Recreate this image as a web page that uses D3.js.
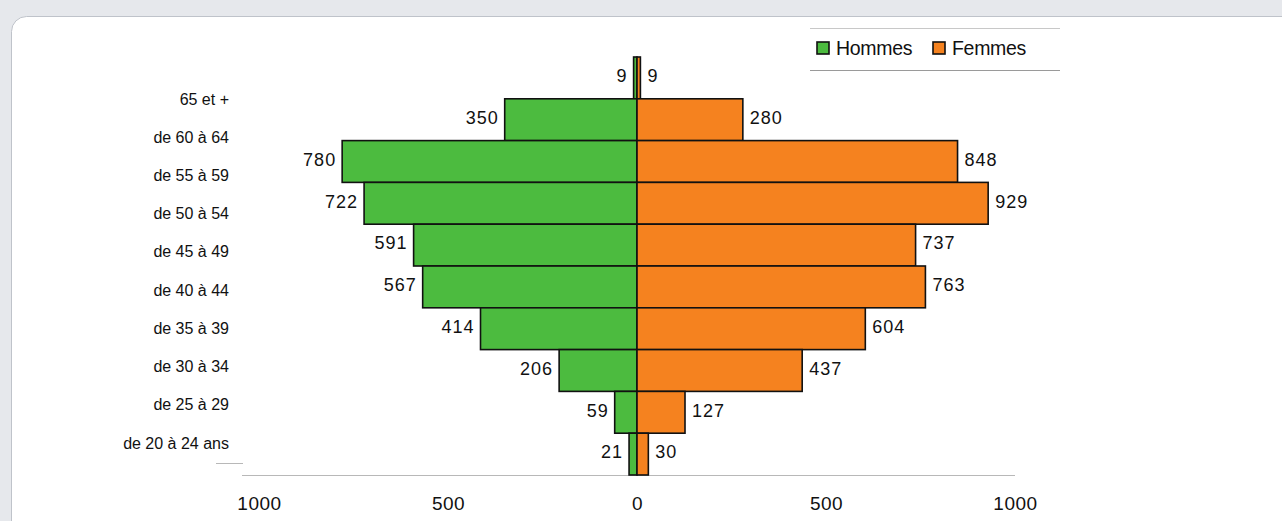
<!DOCTYPE html>
<html>
<head>
<meta charset="utf-8">
<script src="https://cdn.jsdelivr.net/npm/d3@7"></script>
<style>
  html, body { margin: 0; padding: 0; background: #e6e8ec; }
  svg { display: block; font-family: "Liberation Sans", Arial, sans-serif; }
</style>
</head>
<body>
<svg id="chart" width="1282" height="521"></svg>
<script>
// Data (top to bottom)
const ageGroups = ['65 et +', 'de 60 à 64', 'de 55 à 59', 'de 50 à 54', 'de 45 à 49',
  'de 40 à 44', 'de 35 à 39', 'de 30 à 34', 'de 25 à 29', 'de 20 à 24 ans'];
const hommes = [9, 350, 780, 722, 591, 567, 414, 206, 59, 21];
const femmes = [9, 280, 848, 929, 737, 763, 604, 437, 127, 30];
const tickValues = [-1000, -500, 0, 500, 1000];
const seriesNames = ['Hommes', 'Femmes'];
const seriesColors = ['#4cbb3f', '#f5821f'];

const svg = d3.select('#chart');

// card
svg.append('rect')
  .attr('x', 11.5).attr('y', 16.5)
  .attr('width', 1300).attr('height', 560)
  .attr('rx', 15).attr('ry', 15)
  .attr('fill', '#fff')
  .attr('stroke', '#bfc3ca');

// Scales
const x = d3.scaleLinear()
  .domain([-1000, 1000])
  .range([637 - 378, 637 + 378]);

const y = d3.scaleBand()
  .domain(ageGroups)
  .range([57, 475])
  .padding(0);

// category labels sit a little off the bars in the original
const yLabel = d3.scalePoint()
  .domain(ageGroups)
  .range([99, 443]);

const rows = ageGroups.map((g, i) => ({ group: g, h: hommes[i], f: femmes[i] }));

const g = svg.append('g');

// axis line
g.append('line')
  .attr('x1', 242).attr('x2', 1015)
  .attr('y1', 475.5).attr('y2', 475.5)
  .attr('stroke', '#b8b8b8')
  .attr('stroke-width', 1.2);
g.append('line')
  .attr('x1', 216).attr('x2', 243)
  .attr('y1', 463.5).attr('y2', 463.5)
  .attr('stroke', '#b8b8b8')
  .attr('stroke-width', 1);

// bars
g.selectAll('.bar-h')
  .data(rows)
  .enter()
  .append('rect')
  .attr('class', 'bar-h')
  .attr('x', (d) => x(-d.h))
  .attr('y', (d) => y(d.group))
  .attr('width', (d) => x(0) - x(-d.h))
  .attr('height', y.bandwidth())
  .attr('fill', seriesColors[0])
  .attr('stroke', '#111')
  .attr('stroke-width', 1.6);

g.selectAll('.bar-f')
  .data(rows)
  .enter()
  .append('rect')
  .attr('class', 'bar-f')
  .attr('x', x(0))
  .attr('y', (d) => y(d.group))
  .attr('width', (d) => x(d.f) - x(0))
  .attr('height', y.bandwidth())
  .attr('fill', seriesColors[1])
  .attr('stroke', '#111')
  .attr('stroke-width', 1.6);

// value labels
g.selectAll('.val-h')
  .data(rows)
  .enter()
  .append('text')
  .attr('x', (d) => x(-d.h) - 6)
  .attr('y', (d) => y(d.group) + y.bandwidth() / 2 - 2)
  .attr('dy', '0.35em')
  .attr('text-anchor', 'end')
  .attr('font-size', 18)
  .attr('letter-spacing', 1)
  .attr('fill', '#111')
  .text((d) => d.h);

g.selectAll('.val-f')
  .data(rows)
  .enter()
  .append('text')
  .attr('x', (d) => x(d.f) + 7)
  .attr('y', (d) => y(d.group) + y.bandwidth() / 2 - 2)
  .attr('dy', '0.35em')
  .attr('text-anchor', 'start')
  .attr('font-size', 18)
  .attr('letter-spacing', 1)
  .attr('fill', '#111')
  .text((d) => d.f);

// category labels
g.selectAll('.cat')
  .data(ageGroups)
  .enter()
  .append('text')
  .attr('x', 229)
  .attr('y', (d) => yLabel(d))
  .attr('dy', '0.35em')
  .attr('text-anchor', 'end')
  .attr('font-size', 16)
  .attr('fill', '#111')
  .text((d) => d);

// x axis ticks (absolute values)
const xAxis = d3.axisBottom(x)
  .tickValues(tickValues)
  .tickSize(0)
  .tickPadding(0)
  .tickFormat((d) => Math.abs(d));

const axisG = g.append('g')
  .attr('transform', 'translate(0,496)')
  .call(xAxis);
axisG.select('.domain').remove();
axisG.selectAll('text')
  .attr('font-size', 19)
  .attr('letter-spacing', 0.5)
  .attr('font-family', '"Liberation Sans", Arial, sans-serif')
  .attr('fill', '#111');

// legend
const legend = svg.append('g');
legend.append('line')
  .attr('x1', 810).attr('x2', 1060)
  .attr('y1', 28.5).attr('y2', 28.5)
  .attr('stroke', '#c8c8c8');
legend.append('line')
  .attr('x1', 810).attr('x2', 1060)
  .attr('y1', 70.5).attr('y2', 70.5)
  .attr('stroke', '#9a9a9a');

const legendX = [817, 933];
const items = legend.selectAll('.item')
  .data(seriesNames)
  .enter()
  .append('g')
  .attr('transform', (d, i) => `translate(${legendX[i]},42)`);
items.append('rect')
  .attr('width', 12).attr('height', 12)
  .attr('fill', (d, i) => seriesColors[i])
  .attr('stroke', '#111')
  .attr('stroke-width', 1.6);
items.append('text')
  .attr('x', 19)
  .attr('y', 6)
  .attr('dy', '0.35em')
  .attr('font-size', 19.5)
  .attr('letter-spacing', -0.3)
  .attr('fill', '#111')
  .text((d) => d);
</script>
</body>
</html>
